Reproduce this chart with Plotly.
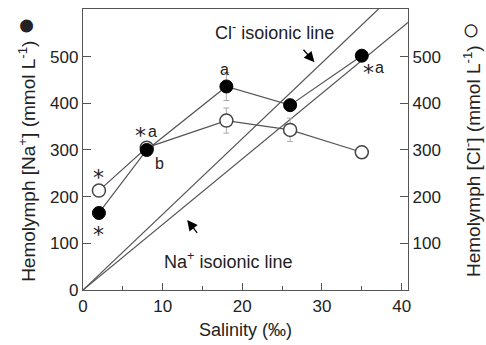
import plotly.graph_objects as go

# Data
salinity = [2, 8, 18, 26, 35]
na_mean = [165, 300, 436, 396, 502]
na_err = [0, 10, 30, 0, 0]
cl_mean = [213, 305, 363, 343, 295]
cl_err = [0, 10, 27, 25, 0]

# isoionic lines (end points)
cl_iso_x = [0, 37.1]
cl_iso_y = [0, 602]
na_iso_x = [0, 40.8]
na_iso_y = [0, 573]

xticks = [0, 10, 20, 30, 40]
yticks_left = [0, 100, 200, 300, 400, 500]
yticks_right = [100, 200, 300, 400, 500]

FONT = "Arial, Liberation Sans, sans-serif"
TXT = "#222"
LINE = "#555"
XR = [0, 40.8]
YR = [0, 602]

fig = go.Figure()

fig.add_trace(go.Scatter(x=cl_iso_x, y=cl_iso_y, mode="lines",
                         line=dict(color=LINE, width=1.2), showlegend=False, hoverinfo="skip"))
fig.add_trace(go.Scatter(x=na_iso_x, y=na_iso_y, mode="lines",
                         line=dict(color=LINE, width=1.2), showlegend=False, hoverinfo="skip"))

fig.add_trace(go.Scatter(
    x=salinity, y=cl_mean, mode="lines+markers",
    line=dict(color=LINE, width=1.2),
    marker=dict(symbol="circle", size=13, color="white", line=dict(color="#444", width=1.5)),
    error_y=dict(type="data", array=cl_err, color="#aaa", thickness=1, width=3),
    showlegend=False))

fig.add_trace(go.Scatter(
    x=salinity, y=na_mean, mode="lines+markers",
    line=dict(color=LINE, width=1.2),
    marker=dict(symbol="circle", size=13, color="black", line=dict(color="black", width=1)),
    error_y=dict(type="data", array=na_err, color="#aaa", thickness=1, width=3),
    showlegend=False))

# dummy trace to make the right axis render
fig.add_trace(go.Scatter(x=[None], y=[None], yaxis="y2", showlegend=False))

tickfont = dict(family=FONT, size=17, color=TXT)
titlefont = dict(family=FONT, size=19, color=TXT)

fig.update_layout(
    width=486, height=345,
    margin=dict(l=83, r=78, t=9, b=55),
    paper_bgcolor="white", plot_bgcolor="white",
    font=tickfont,
    xaxis=dict(range=XR, tickvals=xticks, ticks="inside", ticklen=7, tickwidth=1.2,
               tickcolor=LINE, showline=True, linecolor=LINE, linewidth=1.3, mirror=True,
               showgrid=False, zeroline=False, tickfont=tickfont, automargin=False,
               minor=dict(dtick=5, ticks="inside", ticklen=4, tickcolor=LINE, tickwidth=1.2, showgrid=False),
               title=dict(text="Salinity (‰)", font=dict(family=FONT, size=18, color=TXT), standoff=8)),
    yaxis=dict(range=YR, tickvals=yticks_left, ticks="inside", ticklen=8, tickwidth=1.2,
               tickcolor=LINE, showline=True, linecolor=LINE, linewidth=1.3,
               showgrid=False, zeroline=False, tickfont=tickfont, automargin=False,
               title=dict(text='Hemolymph [Na<sup>+</sup>] (mmol L<sup>-1</sup>) <span style="font-size:30px">●</span>',
                          font=titlefont, standoff=9)),
    yaxis2=dict(range=YR, tickvals=yticks_right, ticks="inside", ticklen=8, tickwidth=1.2,
                tickcolor=LINE, showline=True, linecolor=LINE, linewidth=1.3,
                overlaying="y", side="right", showgrid=False, zeroline=False, tickfont=tickfont,
                automargin=False,
                title=dict(text='Hemolymph [Cl<sup>-</sup>] (mmol L<sup>-1</sup>) <span style="font-size:30px">○</span>',
                           font=titlefont, standoff=30)),
)

afont = dict(family=FONT, size=18, color=TXT)
lfont = dict(family=FONT, size=16, color=TXT)
sfont = dict(family="DejaVu Sans, sans-serif", size=22, color=TXT)

def label(x, y, text, xs=0, ys=0, font=lfont):
    fig.add_annotation(x=x, y=y, text=text, showarrow=False, xshift=xs, yshift=ys, font=font)

# significance marks
label(salinity[0], cl_mean[0], "*", 0, 13, sfont)
label(salinity[0], na_mean[0], "*", 0, -22, sfont)
label(salinity[1], na_mean[1], "*", -6, 14, sfont)
label(salinity[1], na_mean[1], "a", 6, 18)
label(salinity[1], na_mean[1], "b", 13, -14)
label(salinity[2], na_mean[2], "a", -2, 17)
label(salinity[4], na_mean[4], "*", 7, -17, sfont)
label(salinity[4], na_mean[4], "a", 18, -12)

# isoionic line labels
fig.add_annotation(x=24.0, y=554, text="Cl<sup>-</sup> isoionic line", showarrow=False, font=afont)
fig.add_annotation(x=18.2, y=64, text="Na<sup>+</sup> isoionic line", showarrow=False, font=afont)

# arrows
fig.add_annotation(x=29.06, y=488, ax=-15, ay=-17, text=" ", showarrow=True,
                   arrowhead=2, arrowsize=1.6, arrowwidth=1.3, arrowcolor="black", standoff=0)
fig.add_annotation(x=13.08, y=150, ax=14, ay=18, text=" ", showarrow=True,
                   arrowhead=2, arrowsize=1.6, arrowwidth=1.3, arrowcolor="black", standoff=0)

fig.write_html("out.html")
